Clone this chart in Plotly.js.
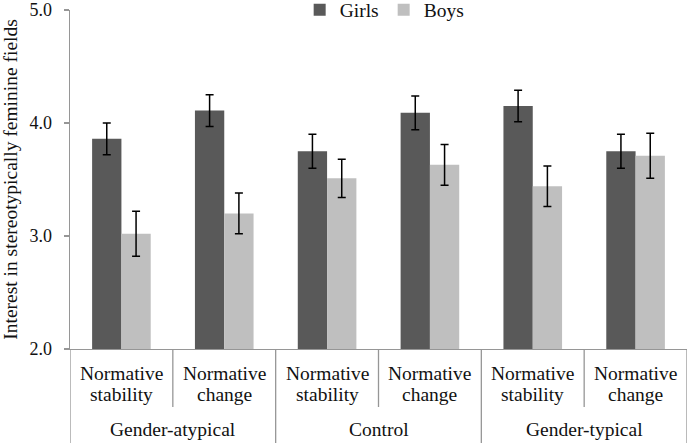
<!DOCTYPE html>
<html>
<head>
<meta charset="utf-8">
<script src="https://cdn.plot.ly/plotly-3.0.1.min.js"></script>
<style>
  html, body { margin: 0; padding: 0; background: #ffffff; }
  #chart { width: 688px; height: 443px; }
</style>
</head>
<body>
<div id="chart"></div>
<script>
// Feedback groups and the normative condition within each group
const groups = ['Gender-atypical', 'Control', 'Gender-typical'];
const conditions = ['Normative stability', 'Normative change'];

// Mean interest (with standard errors) per group x condition cell
const girls    = [3.86, 4.11, 3.75, 4.09, 4.15, 3.75];
const girlsErr = [0.14, 0.14, 0.15, 0.15, 0.14, 0.15];
const boys     = [3.02, 3.20, 3.51, 3.63, 3.44, 3.71];
const boysErr  = [0.20, 0.18, 0.17, 0.18, 0.18, 0.20];

const yTicks = [2, 3, 4, 5];

const FONT = '"Times New Roman", "Liberation Serif", serif';
const AXIS_COLOR = '#969696';
const TEXT_COLOR = '#111111';

const serif = (size) => ({ family: FONT, size: size, color: TEXT_COLOR });

// Cell positions along the x axis: one slot per group x condition
const xPos = [];
const cellLabels = [];
groups.forEach((g, gi) => {
  conditions.forEach((c, ci) => {
    xPos.push(gi * conditions.length + ci);
    cellLabels.push(c);
  });
});

const errStyle = (arr) => ({
  type: 'data', array: arr, visible: true,
  color: '#000000', thickness: 1.5, width: 4
});

const traces = [
  {
    type: 'bar', name: 'Girls', x: xPos, y: girls,
    marker: { color: '#595959' },
    error_y: errStyle(girlsErr)
  },
  {
    type: 'bar', name: 'Boys', x: xPos, y: boys,
    marker: { color: '#bfbfbf' },
    error_y: errStyle(boysErr)
  }
];

// Two-line condition labels and group labels under the axis
const annotations = [];
xPos.forEach((x, i) => {
  const words = cellLabels[i].split(' ');
  annotations.push({
    x: x, xref: 'x', y: 0, yref: 'paper',
    text: words[0], showarrow: false,
    xanchor: 'center', yanchor: 'middle', yshift: -24,
    font: serif(19.5)
  });
  annotations.push({
    x: x, xref: 'x', y: 0, yref: 'paper',
    text: words.slice(1).join(' '), showarrow: false,
    xanchor: 'center', yanchor: 'middle', yshift: -45,
    font: serif(19.5)
  });
});
groups.forEach((g, gi) => {
  const n = conditions.length;
  annotations.push({
    x: gi * n + (n - 1) / 2, xref: 'x', y: 0, yref: 'paper',
    text: g, showarrow: false,
    xanchor: 'center', yanchor: 'middle', yshift: -80,
    font: serif(19.5)
  });
});

// Divider lines in the category label area
const plotH = 443 - 10 - 94;
const fullBottom = -94 / plotH;
const shortBottom = -58 / plotH;
const shapes = [];
const nCells = xPos.length;
for (let b = 0; b <= nCells; b++) {
  const isGroupEdge = b % conditions.length === 0;
  shapes.push({
    type: 'line', xref: 'x', yref: 'paper',
    x0: b - 0.5, x1: b - 0.5,
    y0: 0, y1: isGroupEdge ? fullBottom : shortBottom,
    line: { color: AXIS_COLOR, width: 1.3 },
    layer: 'above'
  });
}

const layout = {
  width: 688, height: 443,
  margin: { l: 70, r: 1, t: 10, b: 94, autoexpand: false },
  paper_bgcolor: '#ffffff', plot_bgcolor: '#ffffff',
  font: serif(19.5),
  barmode: 'group',
  bargap: 0.43,
  bargroupgap: 0,
  showlegend: true,
  legend: {
    orientation: 'h',
    x: 0.51, xanchor: 'center',
    y: 1, yanchor: 'middle',
    font: serif(19.5),
    bgcolor: 'rgba(0,0,0,0)', itemwidth: 30, tracegroupgap: 0
  },
  xaxis: {
    range: [-0.5, nCells - 0.5],
    showticklabels: false, ticks: '',
    showgrid: false, zeroline: false,
    showline: true, linecolor: AXIS_COLOR, linewidth: 1.3,
    fixedrange: true
  },
  yaxis: {
    range: [2, 5],
    tickvals: yTicks,
    tickformat: '.1f',
    ticks: 'outside', ticklen: 5, tickcolor: AXIS_COLOR, tickwidth: 1.3,
    ticklabelstandoff: 8,
    tickfont: serif(18),
    showgrid: false, zeroline: false,
    showline: true, linecolor: AXIS_COLOR, linewidth: 1.3,
    title: {
      text: 'Interest in stereotypically feminine fields',
      font: serif(19.5),
      standoff: 7
    },
    fixedrange: true
  },
  annotations: annotations,
  shapes: shapes
};

Plotly.newPlot('chart', traces, layout, { displayModeBar: false, staticPlot: true });
</script>
</body>
</html>
